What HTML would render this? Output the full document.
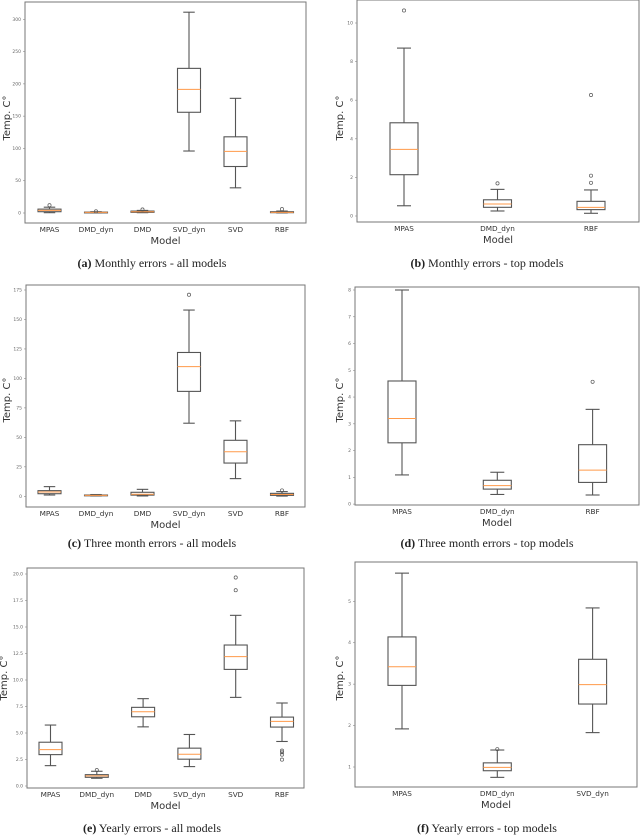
<!DOCTYPE html>
<html><head><meta charset="utf-8">
<style>
html,body{margin:0;padding:0;background:#fff;}
svg{display:block;}
.tick{font-family:"DejaVu Sans","Liberation Sans",sans-serif;font-size:4.5px;fill:#666;}
.cat{font-family:"DejaVu Sans","Liberation Sans",sans-serif;font-size:7.3px;fill:#333;}
.axl{font-family:"DejaVu Sans","Liberation Sans",sans-serif;font-size:10px;fill:#333;}
.cap{font-family:"Liberation Serif",serif;font-size:12px;fill:#222;}
</style></head>
<body>
<svg id="fig" width="640" height="838" viewBox="0 0 640 838" xmlns="http://www.w3.org/2000/svg"></svg>
<script>
// ---------- data ----------
const catsA = ["MPAS","DMD_dyn","DMD","SVD_dyn","SVD","RBF"];
const lowA  = [0.5, 0.3, 0.5, 96, 39, 0.2];
const q1A   = [2, 0.6, 1, 156, 72, 0.5];
const medA  = [4, 1, 2, 191.5, 95.5, 1];
const q3A   = [6, 1.4, 3, 224, 118, 2];
const highA = [9, 2, 4, 311, 177.6, 3];
const outA  = [[12],[2.5],[5.5],[],[],[6]];
const ticksA = [0,50,100,150,200,250,300];

const catsB = ["MPAS","DMD_dyn","RBF"];
const lowB  = [0.53, 0.26, 0.14];
const q1B   = [2.14, 0.45, 0.33];
const medB  = [3.45, 0.62, 0.45];
const q3B   = [4.83, 0.84, 0.76];
const highB = [8.7, 1.38, 1.35];
const outB  = [[10.65],[1.69],[1.72,2.09,6.27]];
const ticksB = [0,2,4,6,8,10];

const catsC = ["MPAS","DMD_dyn","DMD","SVD_dyn","SVD","RBF"];
const lowC  = [1.1, 0.3, 0.3, 62, 15, 0.2];
const q1C   = [2.2, 0.5, 1, 89, 28.2, 0.8];
const medC  = [3.6, 0.8, 1.7, 110, 37.8, 1.5];
const q3C   = [4.8, 1.1, 3.4, 122, 47.5, 2.5];
const highC = [8.2, 1.5, 5.9, 158, 64, 4];
const outC  = [[],[],[],[171],[],[5]];
const ticksC = [0,25,50,75,100,125,150,175];

const catsD = ["MPAS","DMD_dyn","RBF"];
const lowD  = [1.09, 0.36, 0.34];
const q1D   = [2.29, 0.56, 0.81];
const medD  = [3.2, 0.69, 1.27];
const q3D   = [4.6, 0.89, 2.22];
const highD = [8.0, 1.19, 3.54];
const outD  = [[],[],[4.57]];
const ticksD = [0,1,2,3,4,5,6,7,8];

const catsE = ["MPAS","DMD_dyn","DMD","SVD_dyn","SVD","RBF"];
const lowE  = [1.92, 0.73, 5.58, 1.83, 8.36, 4.2];
const q1E   = [2.96, 0.82, 6.53, 2.53, 11.0, 5.56];
const medE  = [3.43, 0.95, 7.0, 3.0, 12.2, 6.1];
const q3E   = [4.13, 1.07, 7.42, 3.57, 13.3, 6.5];
const highE = [5.75, 1.39, 8.24, 4.86, 16.1, 7.83];
const outE  = [[],[1.5],[],[],[18.47,19.67],[2.49,2.96,3.18,3.34]];
const ticksE = [0,2.5,5,7.5,10,12.5,15,17.5,20];

const catsF = ["MPAS","DMD_dyn","SVD_dyn"];
const lowF  = [1.92, 0.75, 1.83];
const q1F   = [2.97, 0.91, 2.52];
const medF  = [3.42, 0.99, 2.99];
const q3F   = [4.14, 1.1, 3.6];
const highF = [5.68, 1.41, 4.84];
const outF  = [[],[1.43],[]];
const ticksF = [1,2,3,4,5];

// ---------- drawing ----------
const NS = "http://www.w3.org/2000/svg";
const svg = document.getElementById("fig");
function mk(tag, attrs, parent){
  const e = document.createElementNS(NS, tag);
  for (const k in attrs) e.setAttribute(k, attrs[k]);
  (parent||svg).appendChild(e);
  return e;
}

function panel(id, cfg, cats, low, q1, med, q3, high, outs, ticks, dec, caption, capBold){
  const g = mk("g", {});
  
  
  const y = v => cfg.p0 + (v - cfg.v0) * (cfg.p1 - cfg.p0) / (cfg.v1 - cfg.v0);
  const x = i => cfg.x0 + i * cfg.step;
  const frame = mk("rect", {x:cfg.L, y:cfg.T, width:cfg.R-cfg.L, height:cfg.B-cfg.T, fill:"none", stroke:"#777", "stroke-width":1}, g);
  
  
  ticks.forEach(t => {
    const yy = y(t);
    mk("line", {x1:cfg.L-2, x2:cfg.L, y1:yy, y2:yy, stroke:"#888", "stroke-width":0.6}, g);
    const tl = mk("text", {x:cfg.L-4, y:yy+1.5, "text-anchor":"end", class:"tick"}, g);
    tl.textContent = dec ? t.toFixed(1) : String(t);
    
    
  });
  const bw = cfg.bw, cw = bw/2;
  cats.forEach((c, i) => {
    const cx = x(i);
    const bg = mk("g", {}, g);
    
    
    const col = "#555", lw = 1.1;
    mk("line", {x1:cx, x2:cx, y1:y(q3[i]), y2:y(high[i]), stroke:col, "stroke-width":lw}, bg);
    mk("line", {x1:cx, x2:cx, y1:y(q1[i]), y2:y(low[i]), stroke:col, "stroke-width":lw}, bg);
    mk("line", {x1:cx-cw/2, x2:cx+cw/2, y1:y(high[i]), y2:y(high[i]), stroke:col, "stroke-width":lw}, bg);
    mk("line", {x1:cx-cw/2, x2:cx+cw/2, y1:y(low[i]), y2:y(low[i]), stroke:col, "stroke-width":lw}, bg);
    mk("rect", {x:cx-bw/2, y:y(q3[i]), width:bw, height:Math.max(0.8, y(q1[i])-y(q3[i])), fill:"#fff", stroke:col, "stroke-width":lw}, bg);
    mk("line", {x1:cx-bw/2, x2:cx+bw/2, y1:y(med[i]), y2:y(med[i]), stroke:"#ff9a4a", "stroke-width":1}, bg);
    outs[i].forEach(o => {
      mk("circle", {cx:cx, cy:y(o), r:1.6, fill:"none", stroke:"#555", "stroke-width":0.7}, bg);
    });
    const lab = mk("text", {x:cx, y:cfg.B+9, "text-anchor":"middle", class:"cat"}, g);
    lab.textContent = c;
    
    
  });
  const ml = mk("text", {x:(cfg.L+cfg.R)/2, y:cfg.B+21, "text-anchor":"middle", class:"axl"}, g);
  ml.textContent = "Model";
  
  
  const yl = mk("text", {x:cfg.yx, y:cfg.yy, "text-anchor":"middle", class:"axl", transform:"rotate(-90 "+cfg.yx+" "+cfg.yy+")"}, g);
  yl.textContent = "Temp. C°";
  
  
  const cp = mk("text", {x:cfg.cx, y:cfg.cy, "text-anchor":"middle", class:"cap"}, g);
  const b = mk("tspan", {"font-weight":"bold"}, cp); b.textContent = capBold;
  const r = mk("tspan", {}, cp); r.textContent = " " + caption;
  
  
}

panel("a", {L:25,R:306,T:2,B:223,v0:0,p0:213,v1:300,p1:19.3,x0:49.5,step:46.5,bw:23,yx:10,yy:118,cx:152,cy:267},
  catsA, lowA, q1A, medA, q3A, highA, outA, ticksA, false, "Monthly errors - all models", "(a)");
panel("b", {L:357,R:639,T:0,B:222,v0:0,p0:216,v1:10,p1:23,x0:404,step:93.5,bw:28,yx:343,yy:118,cx:487,cy:267},
  catsB, lowB, q1B, medB, q3B, highB, outB, ticksB, false, "Monthly errors - top models", "(b)");
panel("c", {L:26,R:305,T:285,B:507,v0:0,p0:496.3,v1:175,p1:290,x0:49.5,step:46.5,bw:23,yx:10,yy:400,cx:152,cy:547},
  catsC, lowC, q1C, medC, q3C, highC, outC, ticksC, false, "Three month errors - all models", "(c)");
panel("d", {L:355,R:639,T:287,B:505,v0:0,p0:504.1,v1:8,p1:290,x0:402,step:95.3,bw:28,yx:343,yy:400,cx:487,cy:547},
  catsD, lowD, q1D, medD, q3D, highD, outD, ticksD, false, "Three month errors - top models", "(d)");
panel("e", {L:27,R:304,T:568,B:788,v0:0,p0:786,v1:20,p1:574,x0:50.5,step:46.3,bw:23,yx:7,yy:678,cx:152,cy:832},
  catsE, lowE, q1E, medE, q3E, highE, outE, ticksE, true, "Yearly errors - all models", "(e)");
panel("f", {L:355,R:637,T:562,B:787,v0:1,p0:767,v1:5,p1:601.3,x0:402,step:95.3,bw:28,yx:343,yy:678,cx:487,cy:832},
  catsF, lowF, q1F, medF, q3F, highF, outF, ticksF, false, "Yearly errors - top models", "(f)");
</script>
</body></html>
